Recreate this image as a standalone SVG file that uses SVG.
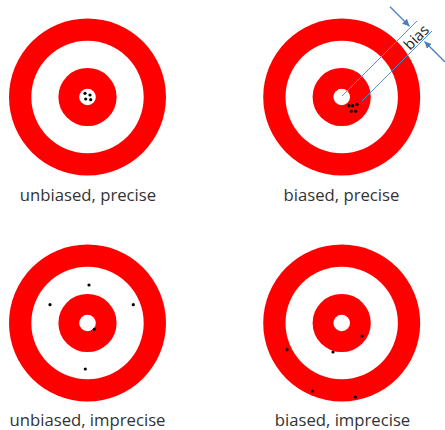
<svg xmlns="http://www.w3.org/2000/svg" width="445" height="430" viewBox="0 0 445 430">
<style>
.ring{fill:#ff0000}
.hole{fill:#ffffff}
.dot{fill:#000000}
.lbl{font-family:"Open Sans","Liberation Sans",sans-serif;font-size:16.7px;fill:#333333;text-anchor:middle}
.dim{stroke:#5b8fcf;stroke-width:1;fill:none}
.arr{stroke:#4a7ebb;stroke-width:1.3;fill:none;marker-end:url(#ah)}
</style>
<defs>
<marker id="ah" viewBox="0 0 10 10" refX="10" refY="5" markerWidth="7" markerHeight="7" markerUnits="userSpaceOnUse" orient="auto">
<path d="M0,0 L10,5 L0,10 z" fill="#4a7ebb"/>
</marker>
<g id="target">
<circle r="78.5" class="ring"/>
<circle r="56.2" class="hole"/>
<circle r="29.1" class="ring"/>
<circle r="8.3" class="hole"/>
</g>
</defs>
<rect width="445" height="430" fill="#ffffff"/>
<g id="t1">
<use href="#target" x="87.5" y="97"/>
<circle cx="85" cy="93.3" r="1.6" class="dot"/>
<circle cx="85.7" cy="99" r="1.6" class="dot"/>
<circle cx="90" cy="95" r="1.6" class="dot"/>
<circle cx="90.7" cy="99.7" r="1.6" class="dot"/>
<text x="88" y="201" class="lbl">unbiased, precise</text>
</g>
<g id="t2">
<use href="#target" x="341.7" y="97"/>
<circle cx="349" cy="105.7" r="1.6" class="dot"/>
<circle cx="352.7" cy="105.7" r="1.6" class="dot"/>
<circle cx="357" cy="104.3" r="1.6" class="dot"/>
<circle cx="351.3" cy="111.3" r="1.6" class="dot"/>
<circle cx="355.7" cy="111.3" r="1.6" class="dot"/>
<text x="341.5" y="201" class="lbl">biased, precise</text>
</g>
<g id="t3">
<use href="#target" x="87.5" y="323"/>
<circle cx="89" cy="285" r="1.6" class="dot"/>
<circle cx="50" cy="304.7" r="1.6" class="dot"/>
<circle cx="133.3" cy="304.7" r="1.6" class="dot"/>
<circle cx="94.3" cy="329.3" r="1.6" class="dot"/>
<circle cx="85.3" cy="369" r="1.6" class="dot"/>
<text x="87.5" y="426" class="lbl">unbiased, imprecise</text>
</g>
<g id="t4">
<use href="#target" x="341.7" y="323"/>
<circle cx="362" cy="336" r="1.6" class="dot"/>
<circle cx="287" cy="349.7" r="1.6" class="dot"/>
<circle cx="333" cy="352" r="1.6" class="dot"/>
<circle cx="312.3" cy="391" r="1.6" class="dot"/>
<circle cx="355.3" cy="397" r="1.6" class="dot"/>
<text x="342.5" y="426" class="lbl">biased, imprecise</text>
</g>
<g id="connectors">
<line x1="342" y1="96" x2="417" y2="21" class="dim"/>
<line x1="362" y1="101" x2="432" y2="31" class="dim"/>
<line x1="390" y1="6.7" x2="409.5" y2="26.2" class="arr"/>
<line x1="445" y1="62" x2="424.5" y2="41.5" class="arr"/>
</g>
<g id="bias-label">
<text x="0" y="0" transform="translate(420,41) rotate(-45)" class="lbl" style="font-size:15px;fill:#222222">bias</text>
</g>
</svg>
